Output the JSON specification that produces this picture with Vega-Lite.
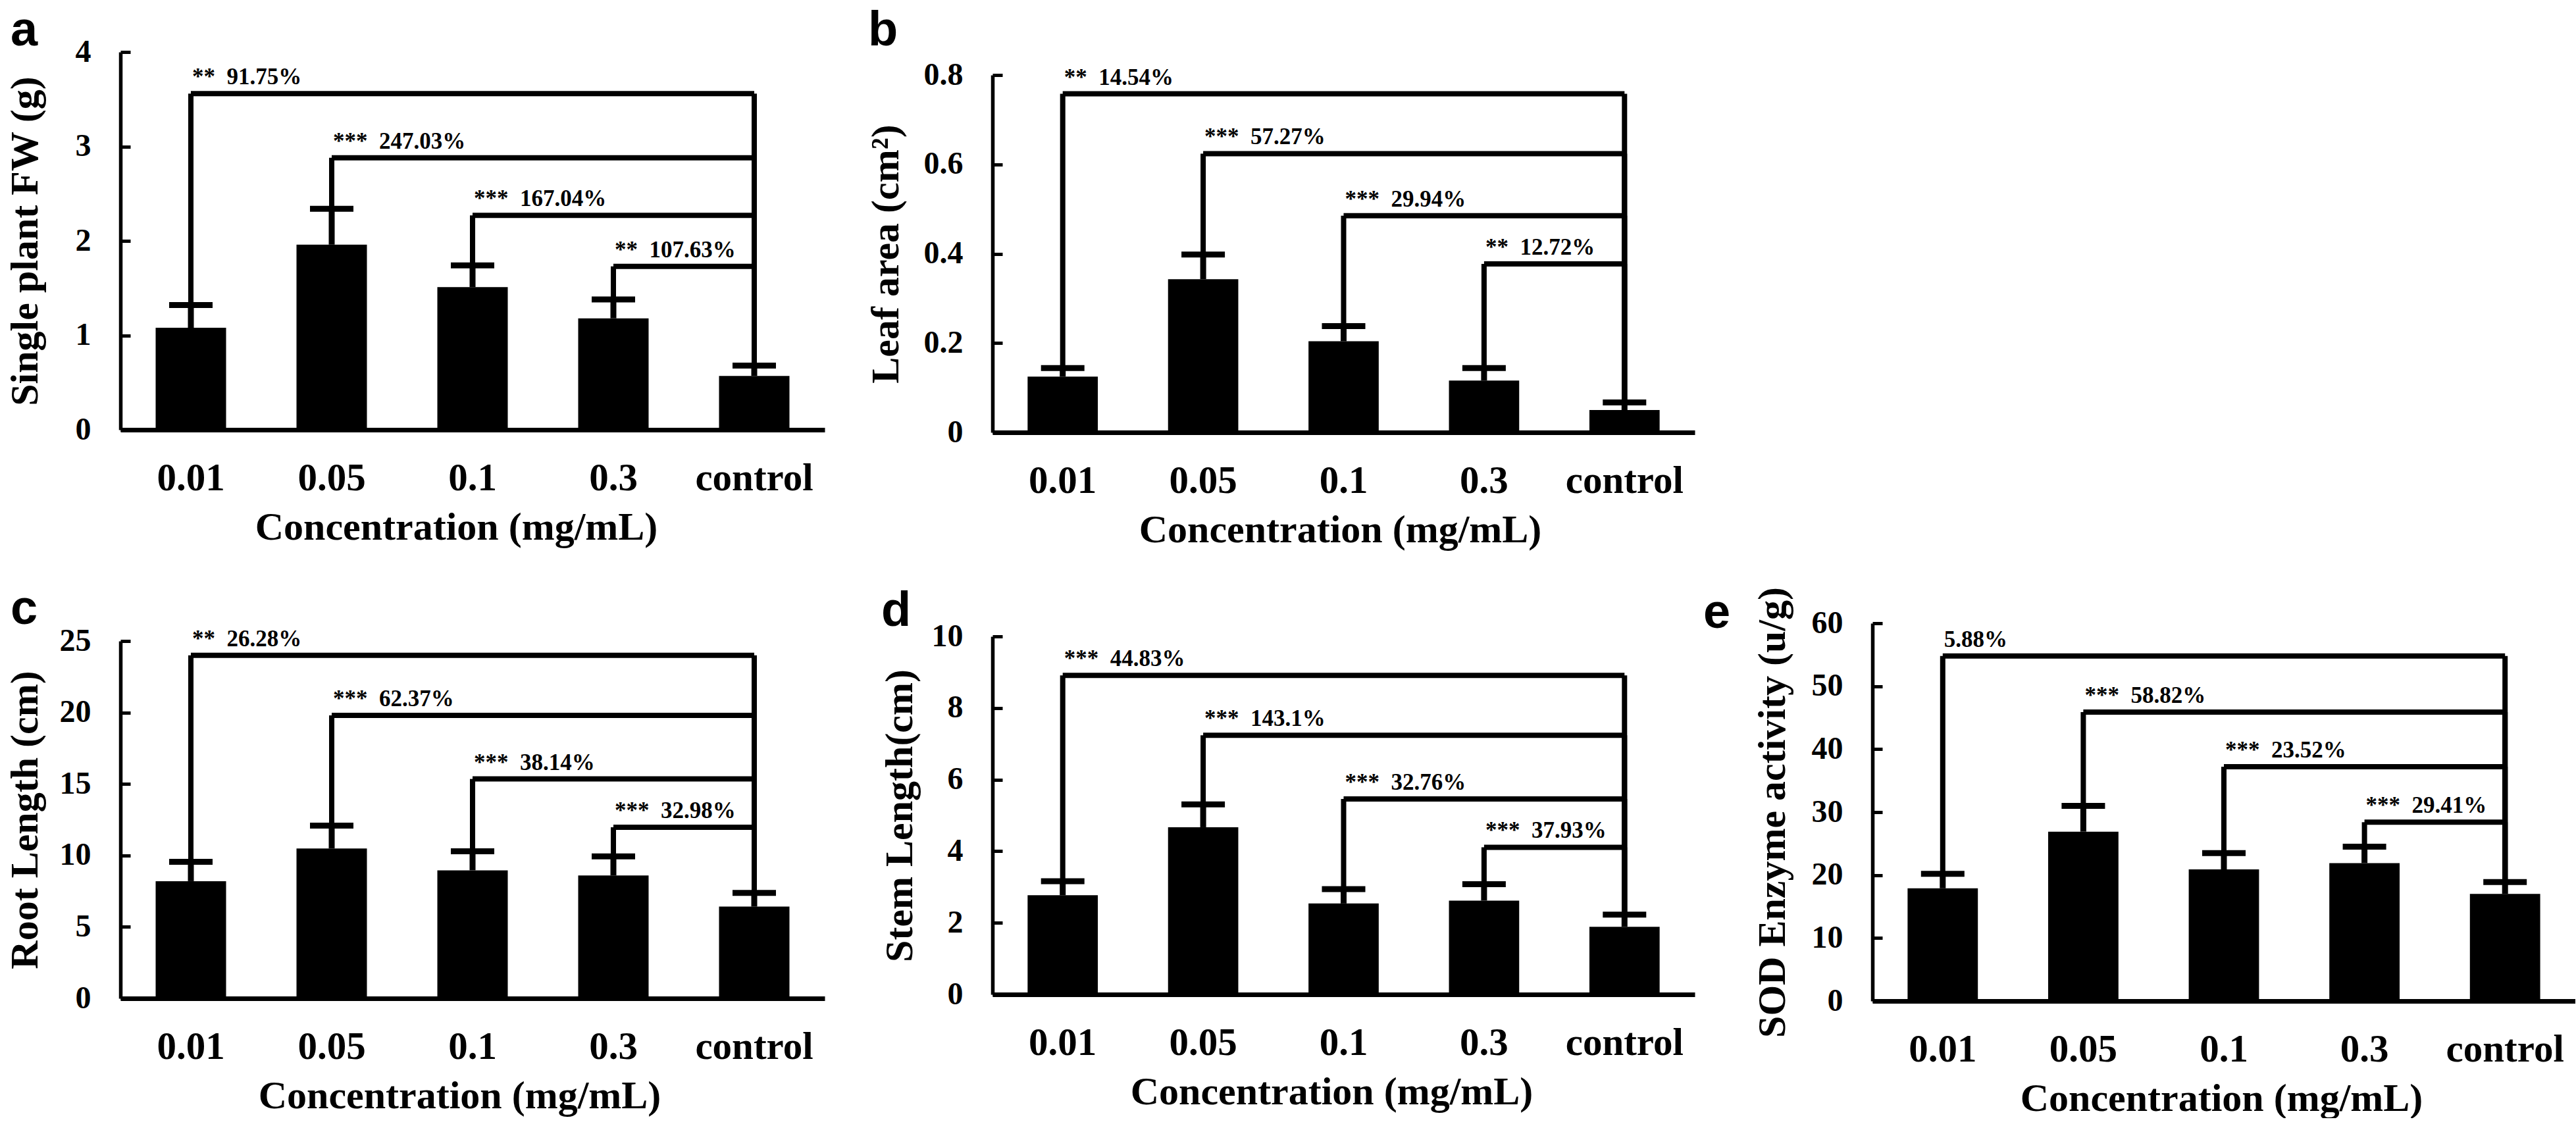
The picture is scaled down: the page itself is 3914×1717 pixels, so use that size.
{
  "$schema": "https://vega.github.io/schema/vega-lite/v6.json",
  "padding": {"left": 7, "top": 10, "right": 0, "bottom": 0},
  "autosize": {"type": "pad"},
  "config": {
    "view": {"stroke": null},
    "font": "Liberation Serif",
    "axis": {"grid": false, "domainColor": "black", "tickColor": "black", "labelColor": "black", "titleColor": "black", "labelFont": "Liberation Serif", "titleFont": "Liberation Serif", "labelFontWeight": "bold", "titleFontWeight": "bold"},
    "axisX": {"labelAngle": 0, "ticks": false, "labelPadding": 44, "labelFontSize": 59, "titleFontSize": 60, "titlePadding": 16, "domainWidth": 7},
    "axisY": {"tickSize": -15, "tickWidth": 5, "labelPadding": 60, "labelFontSize": 48, "titleFontSize": 60, "titleBaseline": "alphabetic", "domainWidth": 5.5, "format": ".1~f"},
    "title": {"font": "Liberation Sans", "fontWeight": "bold", "fontSize": 74, "anchor": "start", "frame": "group", "baseline": "alphabetic", "offset": 0, "color": "black"}
  },
  "datasets": {
    "a_bar": [
      {"conc": "0.01", "mean": 1.08, "upper": 1.32},
      {"conc": "0.05", "mean": 1.96, "upper": 2.34},
      {"conc": "0.1", "mean": 1.51, "upper": 1.74},
      {"conc": "0.3", "mean": 1.18, "upper": 1.38},
      {"conc": "control", "mean": 0.57, "upper": 0.68}
    ],
    "a_br": [
      {"from": "0.01", "to": "control", "top": 3.56, "fromCap": 1.32, "toCap": 0.68, "label": "**\u200291.75%"},
      {"from": "0.05", "to": "control", "top": 2.88, "fromCap": 2.34, "toCap": 0.68, "label": "***\u2002247.03%"},
      {"from": "0.1", "to": "control", "top": 2.27, "fromCap": 1.74, "toCap": 0.68, "label": "***\u2002167.04%"},
      {"from": "0.3", "to": "control", "top": 1.73, "fromCap": 1.38, "toCap": 0.68, "label": "**\u2002107.63%"}
    ],
    "b_bar": [
      {"conc": "0.01", "mean": 0.125, "upper": 0.144},
      {"conc": "0.05", "mean": 0.343, "upper": 0.398},
      {"conc": "0.1", "mean": 0.204, "upper": 0.238},
      {"conc": "0.3", "mean": 0.116, "upper": 0.144},
      {"conc": "control", "mean": 0.05, "upper": 0.067}
    ],
    "b_br": [
      {"from": "0.01", "to": "control", "top": 0.758, "fromCap": 0.144, "toCap": 0.067, "label": "**\u200214.54%"},
      {"from": "0.05", "to": "control", "top": 0.624, "fromCap": 0.398, "toCap": 0.067, "label": "***\u200257.27%"},
      {"from": "0.1", "to": "control", "top": 0.485, "fromCap": 0.238, "toCap": 0.067, "label": "***\u200229.94%"},
      {"from": "0.3", "to": "control", "top": 0.377, "fromCap": 0.144, "toCap": 0.067, "label": "**\u200212.72%"}
    ],
    "c_bar": [
      {"conc": "0.01", "mean": 8.2, "upper": 9.55},
      {"conc": "0.05", "mean": 10.49, "upper": 12.09},
      {"conc": "0.1", "mean": 8.96, "upper": 10.29},
      {"conc": "0.3", "mean": 8.6, "upper": 9.93},
      {"conc": "control", "mean": 6.42, "upper": 7.38}
    ],
    "c_br": [
      {"from": "0.01", "to": "control", "top": 24.0, "fromCap": 9.55, "toCap": 7.38, "label": "**\u200226.28%"},
      {"from": "0.05", "to": "control", "top": 19.8, "fromCap": 12.09, "toCap": 7.38, "label": "***\u200262.37%"},
      {"from": "0.1", "to": "control", "top": 15.35, "fromCap": 10.29, "toCap": 7.38, "label": "***\u200238.14%"},
      {"from": "0.3", "to": "control", "top": 11.97, "fromCap": 9.93, "toCap": 7.38, "label": "***\u200232.98%"}
    ],
    "d_bar": [
      {"conc": "0.01", "mean": 2.77, "upper": 3.16},
      {"conc": "0.05", "mean": 4.67, "upper": 5.31},
      {"conc": "0.1", "mean": 2.54, "upper": 2.94},
      {"conc": "0.3", "mean": 2.62, "upper": 3.08},
      {"conc": "control", "mean": 1.89, "upper": 2.23}
    ],
    "d_br": [
      {"from": "0.01", "to": "control", "top": 8.91, "fromCap": 3.16, "toCap": 2.23, "label": "***\u200244.83%"},
      {"from": "0.05", "to": "control", "top": 7.24, "fromCap": 5.31, "toCap": 2.23, "label": "***\u2002143.1%"},
      {"from": "0.1", "to": "control", "top": 5.46, "fromCap": 2.94, "toCap": 2.23, "label": "***\u200232.76%"},
      {"from": "0.3", "to": "control", "top": 4.11, "fromCap": 3.08, "toCap": 2.23, "label": "***\u200237.93%"}
    ],
    "e_bar": [
      {"conc": "0.01", "mean": 17.9, "upper": 20.2},
      {"conc": "0.05", "mean": 26.9, "upper": 31.0},
      {"conc": "0.1", "mean": 20.9, "upper": 23.5},
      {"conc": "0.3", "mean": 21.9, "upper": 24.5},
      {"conc": "control", "mean": 17.0, "upper": 18.9}
    ],
    "e_br": [
      {"from": "0.01", "to": "control", "top": 54.8, "fromCap": 20.2, "toCap": 18.9, "label": "5.88%"},
      {"from": "0.05", "to": "control", "top": 45.9, "fromCap": 31.0, "toCap": 18.9, "label": "***\u200258.82%"},
      {"from": "0.1", "to": "control", "top": 37.2, "fromCap": 23.5, "toCap": 18.9, "label": "***\u200223.52%"},
      {"from": "0.3", "to": "control", "top": 28.4, "fromCap": 24.5, "toCap": 18.9, "label": "***\u200229.41%"}
    ]
  },
  "spacing": 13,
  "hconcat": [
    {
      "spacing": 62,
      "hconcat": [
        {
          "spacing": 58,
          "vconcat": [
            {
              "width": 1070, "height": 574,
              "title": {"text": "a", "dx": -167, "dy": 34},
              "layer": [
                {"data": {"name": "a_bar"}, "mark": {"type": "bar", "color": "black"},
                 "encoding": {
                   "x": {"field": "conc", "type": "nominal", "sort": null, "scale": {"paddingInner": 0.5, "paddingOuter": 0.25}, "axis": {"title": "Concentration (mg/mL)", "titleX": 510}},
                   "y": {"field": "mean", "type": "quantitative", "scale": {"domain": [0, 4], "nice": false}, "axis": {"title": "Single plant FW (g)", "values": [0, 1, 2, 3, 4], "titleX": -127}}}},
                {"data": {"name": "a_bar"}, "mark": {"type": "rule", "strokeWidth": 9, "color": "black"},
                 "encoding": {"x": {"field": "conc", "type": "nominal", "sort": null}, "y": {"field": "mean", "type": "quantitative"}, "y2": {"field": "upper"}}},
                {"data": {"name": "a_bar"}, "mark": {"type": "tick", "size": 66, "thickness": 9, "color": "black", "opacity": 1},
                 "encoding": {"x": {"field": "conc", "type": "nominal", "sort": null}, "y": {"field": "upper", "type": "quantitative"}}},
                {"data": {"name": "a_br"}, "mark": {"type": "rule", "strokeWidth": 8, "color": "black"},
                 "encoding": {"x": {"field": "from", "type": "nominal", "sort": null}, "x2": {"field": "to"}, "y": {"field": "top", "type": "quantitative"}}},
                {"data": {"name": "a_br"}, "mark": {"type": "rule", "strokeWidth": 8, "color": "black"},
                 "encoding": {"x": {"field": "from", "type": "nominal", "sort": null}, "y": {"field": "fromCap", "type": "quantitative"}, "y2": {"field": "top"}}},
                {"data": {"name": "a_br"}, "mark": {"type": "rule", "strokeWidth": 8, "color": "black"},
                 "encoding": {"x": {"field": "to", "type": "nominal", "sort": null}, "y": {"field": "toCap", "type": "quantitative"}, "y2": {"field": "top"}}},
                {"data": {"name": "a_br"}, "mark": {"type": "text", "align": "left", "baseline": "alphabetic", "dx": 2, "dy": -14, "font": "Liberation Serif", "fontWeight": "bold", "fontSize": 35, "color": "black"},
                 "encoding": {"x": {"field": "from", "type": "nominal", "sort": null}, "y": {"field": "top", "type": "quantitative"}, "text": {"field": "label"}}}
              ]
            },
            {
              "width": 1070, "height": 543,
              "title": {"text": "c", "dx": -167, "dy": 18},
              "layer": [
                {"data": {"name": "c_bar"}, "mark": {"type": "bar", "color": "black"},
                 "encoding": {
                   "x": {"field": "conc", "type": "nominal", "sort": null, "scale": {"paddingInner": 0.5, "paddingOuter": 0.25}, "axis": {"title": "Concentration (mg/mL)", "titleX": 515}},
                   "y": {"field": "mean", "type": "quantitative", "scale": {"domain": [0, 25], "nice": false}, "axis": {"title": "Root Length (cm)", "values": [0, 5, 10, 15, 20, 25], "titleX": -127}}}},
                {"data": {"name": "c_bar"}, "mark": {"type": "rule", "strokeWidth": 9, "color": "black"},
                 "encoding": {"x": {"field": "conc", "type": "nominal", "sort": null}, "y": {"field": "mean", "type": "quantitative"}, "y2": {"field": "upper"}}},
                {"data": {"name": "c_bar"}, "mark": {"type": "tick", "size": 66, "thickness": 9, "color": "black", "opacity": 1},
                 "encoding": {"x": {"field": "conc", "type": "nominal", "sort": null}, "y": {"field": "upper", "type": "quantitative"}}},
                {"data": {"name": "c_br"}, "mark": {"type": "rule", "strokeWidth": 8, "color": "black"},
                 "encoding": {"x": {"field": "from", "type": "nominal", "sort": null}, "x2": {"field": "to"}, "y": {"field": "top", "type": "quantitative"}}},
                {"data": {"name": "c_br"}, "mark": {"type": "rule", "strokeWidth": 8, "color": "black"},
                 "encoding": {"x": {"field": "from", "type": "nominal", "sort": null}, "y": {"field": "fromCap", "type": "quantitative"}, "y2": {"field": "top"}}},
                {"data": {"name": "c_br"}, "mark": {"type": "rule", "strokeWidth": 8, "color": "black"},
                 "encoding": {"x": {"field": "to", "type": "nominal", "sort": null}, "y": {"field": "toCap", "type": "quantitative"}, "y2": {"field": "top"}}},
                {"data": {"name": "c_br"}, "mark": {"type": "text", "align": "left", "baseline": "alphabetic", "dx": 2, "dy": -14, "font": "Liberation Serif", "fontWeight": "bold", "fontSize": 35, "color": "black"},
                 "encoding": {"x": {"field": "from", "type": "nominal", "sort": null}, "y": {"field": "top", "type": "quantitative"}, "text": {"field": "label"}}}
              ]
            }
          ]
        },
        {
          "spacing": 57,
          "vconcat": [
            {
              "spacing": -70,
              "vconcat": [
                {"width": 1067, "height": 1, "data": {"values": []}, "mark": "point"},
                {
                  "width": 1067, "height": 543,
                  "title": {"text": "b", "dx": -189, "dy": -1},
                  "layer": [
                    {"data": {"name": "b_bar"}, "mark": {"type": "bar", "color": "black"},
                     "encoding": {
                       "x": {"field": "conc", "type": "nominal", "sort": null, "scale": {"paddingInner": 0.5, "paddingOuter": 0.25}, "axis": {"title": "Concentration (mg/mL)", "titleX": 528}},
                       "y": {"field": "mean", "type": "quantitative", "scale": {"domain": [0, 0.8], "nice": false}, "axis": {"title": "Leaf area (cm²)", "values": [0, 0.2, 0.4, 0.6, 0.8], "titleX": -144}}}},
                    {"data": {"name": "b_bar"}, "mark": {"type": "rule", "strokeWidth": 9, "color": "black"},
                     "encoding": {"x": {"field": "conc", "type": "nominal", "sort": null}, "y": {"field": "mean", "type": "quantitative"}, "y2": {"field": "upper"}}},
                    {"data": {"name": "b_bar"}, "mark": {"type": "tick", "size": 66, "thickness": 9, "color": "black", "opacity": 1},
                     "encoding": {"x": {"field": "conc", "type": "nominal", "sort": null}, "y": {"field": "upper", "type": "quantitative"}}},
                    {"data": {"name": "b_br"}, "mark": {"type": "rule", "strokeWidth": 8, "color": "black"},
                     "encoding": {"x": {"field": "from", "type": "nominal", "sort": null}, "x2": {"field": "to"}, "y": {"field": "top", "type": "quantitative"}}},
                    {"data": {"name": "b_br"}, "mark": {"type": "rule", "strokeWidth": 8, "color": "black"},
                     "encoding": {"x": {"field": "from", "type": "nominal", "sort": null}, "y": {"field": "fromCap", "type": "quantitative"}, "y2": {"field": "top"}}},
                    {"data": {"name": "b_br"}, "mark": {"type": "rule", "strokeWidth": 8, "color": "black"},
                     "encoding": {"x": {"field": "to", "type": "nominal", "sort": null}, "y": {"field": "toCap", "type": "quantitative"}, "y2": {"field": "top"}}},
                    {"data": {"name": "b_br"}, "mark": {"type": "text", "align": "left", "baseline": "alphabetic", "dx": 2, "dy": -14, "font": "Liberation Serif", "fontWeight": "bold", "fontSize": 35, "color": "black"},
                     "encoding": {"x": {"field": "from", "type": "nominal", "sort": null}, "y": {"field": "top", "type": "quantitative"}, "text": {"field": "label"}}}
                  ]
                }
              ]
            },
            {
              "width": 1067, "height": 544,
              "title": {"text": "d", "dx": -169, "dy": 28},
              "layer": [
                {"data": {"name": "d_bar"}, "mark": {"type": "bar", "color": "black"},
                 "encoding": {
                   "x": {"field": "conc", "type": "nominal", "sort": null, "scale": {"paddingInner": 0.5, "paddingOuter": 0.25}, "axis": {"title": "Concentration (mg/mL)", "titleX": 515}},
                   "y": {"field": "mean", "type": "quantitative", "scale": {"domain": [0, 10], "nice": false}, "axis": {"title": "Stem Length(cm)", "values": [0, 2, 4, 6, 8, 10], "titleX": -123}}}},
                {"data": {"name": "d_bar"}, "mark": {"type": "rule", "strokeWidth": 9, "color": "black"},
                 "encoding": {"x": {"field": "conc", "type": "nominal", "sort": null}, "y": {"field": "mean", "type": "quantitative"}, "y2": {"field": "upper"}}},
                {"data": {"name": "d_bar"}, "mark": {"type": "tick", "size": 66, "thickness": 9, "color": "black", "opacity": 1},
                 "encoding": {"x": {"field": "conc", "type": "nominal", "sort": null}, "y": {"field": "upper", "type": "quantitative"}}},
                {"data": {"name": "d_br"}, "mark": {"type": "rule", "strokeWidth": 8, "color": "black"},
                 "encoding": {"x": {"field": "from", "type": "nominal", "sort": null}, "x2": {"field": "to"}, "y": {"field": "top", "type": "quantitative"}}},
                {"data": {"name": "d_br"}, "mark": {"type": "rule", "strokeWidth": 8, "color": "black"},
                 "encoding": {"x": {"field": "from", "type": "nominal", "sort": null}, "y": {"field": "fromCap", "type": "quantitative"}, "y2": {"field": "top"}}},
                {"data": {"name": "d_br"}, "mark": {"type": "rule", "strokeWidth": 8, "color": "black"},
                 "encoding": {"x": {"field": "to", "type": "nominal", "sort": null}, "y": {"field": "toCap", "type": "quantitative"}, "y2": {"field": "top"}}},
                {"data": {"name": "d_br"}, "mark": {"type": "text", "align": "left", "baseline": "alphabetic", "dx": 2, "dy": -14, "font": "Liberation Serif", "fontWeight": "bold", "fontSize": 35, "color": "black"},
                 "encoding": {"x": {"field": "from", "type": "nominal", "sort": null}, "y": {"field": "top", "type": "quantitative"}, "text": {"field": "label"}}}
              ]
            }
          ]
        }
      ]
    },
    {
      "spacing": 811,
      "vconcat": [
        {"width": 1068, "height": 1, "data": {"values": []}, "mark": "point"},
        {
          "width": 1068, "height": 574,
          "title": {"text": "e", "dx": -257, "dy": 82},
          "layer": [
            {"data": {"name": "e_bar"}, "mark": {"type": "bar", "color": "black"},
             "encoding": {
               "x": {"field": "conc", "type": "nominal", "sort": null, "scale": {"paddingInner": 0.5, "paddingOuter": 0.25}, "axis": {"title": "Concentration (mg/mL)", "titleX": 530}},
               "y": {"field": "mean", "type": "quantitative", "scale": {"domain": [0, 60], "nice": false}, "axis": {"title": "SOD Enzyme activity (u/g)", "values": [0, 10, 20, 30, 40, 50, 60], "titleX": -134}}}},
            {"data": {"name": "e_bar"}, "mark": {"type": "rule", "strokeWidth": 9, "color": "black"},
             "encoding": {"x": {"field": "conc", "type": "nominal", "sort": null}, "y": {"field": "mean", "type": "quantitative"}, "y2": {"field": "upper"}}},
            {"data": {"name": "e_bar"}, "mark": {"type": "tick", "size": 66, "thickness": 9, "color": "black", "opacity": 1},
             "encoding": {"x": {"field": "conc", "type": "nominal", "sort": null}, "y": {"field": "upper", "type": "quantitative"}}},
            {"data": {"name": "e_br"}, "mark": {"type": "rule", "strokeWidth": 8, "color": "black"},
             "encoding": {"x": {"field": "from", "type": "nominal", "sort": null}, "x2": {"field": "to"}, "y": {"field": "top", "type": "quantitative"}}},
            {"data": {"name": "e_br"}, "mark": {"type": "rule", "strokeWidth": 8, "color": "black"},
             "encoding": {"x": {"field": "from", "type": "nominal", "sort": null}, "y": {"field": "fromCap", "type": "quantitative"}, "y2": {"field": "top"}}},
            {"data": {"name": "e_br"}, "mark": {"type": "rule", "strokeWidth": 8, "color": "black"},
             "encoding": {"x": {"field": "to", "type": "nominal", "sort": null}, "y": {"field": "toCap", "type": "quantitative"}, "y2": {"field": "top"}}},
            {"data": {"name": "e_br"}, "mark": {"type": "text", "align": "left", "baseline": "alphabetic", "dx": 2, "dy": -14, "font": "Liberation Serif", "fontWeight": "bold", "fontSize": 35, "color": "black"},
             "encoding": {"x": {"field": "from", "type": "nominal", "sort": null}, "y": {"field": "top", "type": "quantitative"}, "text": {"field": "label"}}}
          ]
        }
      ]
    }
  ]
}
